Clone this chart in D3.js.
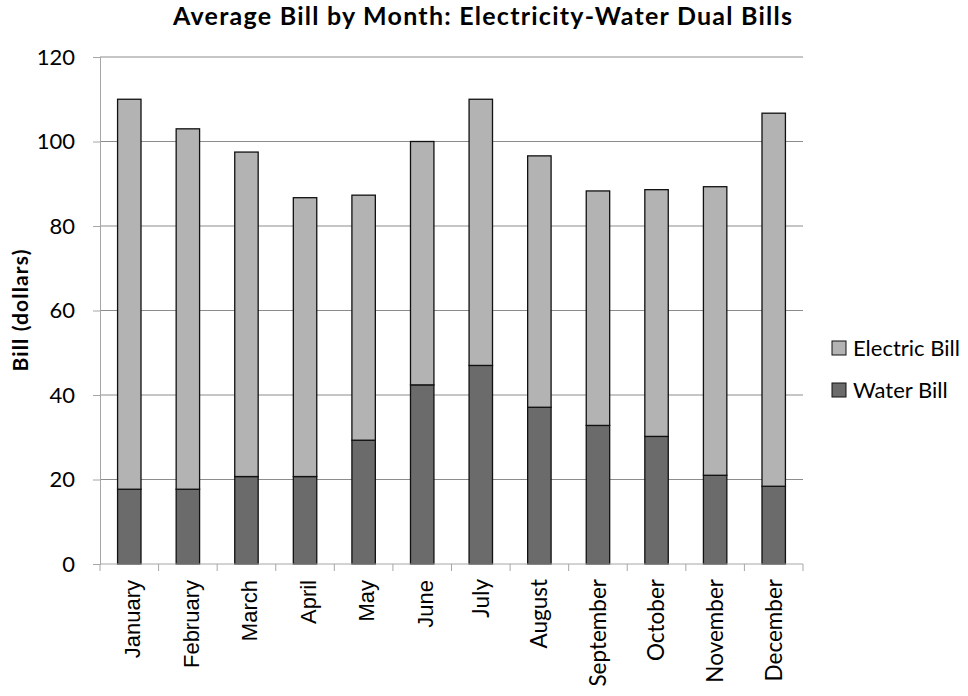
<!DOCTYPE html>
<html>
<head>
<meta charset="utf-8">
<script src="https://cdn.jsdelivr.net/npm/d3@7"></script>
<style>
  html, body { margin: 0; padding: 0; background: #fff; }
  svg { font-family: Lato, "Open Sans", sans-serif; }
  svg text { fill: #000; }
</style>
</head>
<body>
<svg id="chart" width="968" height="696"></svg>
<script>
// Monthly averages (dollars)
const months = ["January", "February", "March", "April", "May", "June",
                "July", "August", "September", "October", "November", "December"];
const waterBill = [17.7, 17.7, 20.7, 20.7, 29.3, 42.4, 47.0, 37.1, 32.8, 30.2, 21.0, 18.4];
const electricBill = [92.3, 85.3, 76.8, 66.0, 58.0, 57.6, 63.0, 59.5, 55.5, 58.4, 68.3, 88.3];
const yTicks = [0, 20, 40, 60, 80, 100, 120];
const seriesNames = ["Water Bill", "Electric Bill"];
const seriesColors = ["#6b6b6b", "#b3b3b3"];

const svg = d3.select("#chart");
const margin = { left: 100, right: 165, top: 57, bottom: 132 };
const W = 968, H = 696;

const x = d3.scaleBand().domain(months)
  .range([margin.left, W - margin.right])
  .paddingInner(0.6).paddingOuter(0.3);
const y = d3.scaleLinear().domain([0, 120]).range([H - margin.bottom, margin.top]);

const rows = months.map((m, i) => ({ month: m, "Water Bill": waterBill[i], "Electric Bill": electricBill[i] }));
const stacked = d3.stack().keys(seriesNames)(rows);

// horizontal gridlines
svg.append("g").selectAll("line").data(yTicks.filter(t => t > 0)).join("line")
  .attr("x1", margin.left).attr("x2", W - margin.right)
  .attr("y1", d => y(d)).attr("y2", d => y(d))
  .attr("stroke", "#8c8c8c").attr("stroke-width", 1);

// y axis
const yAxis = svg.append("g").attr("transform", `translate(${margin.left},0)`)
  .call(d3.axisLeft(y).tickValues(yTicks).tickSize(7).tickPadding(18));
yAxis.select(".domain").attr("stroke", "#a6a6a6");
yAxis.selectAll(".tick line").attr("stroke", "#a6a6a6");
yAxis.selectAll(".tick text").style("font-size", "22px").style("font-family", "Lato").attr("fill", "#000");

// bars
svg.append("g").selectAll("g").data(stacked).join("g")
  .attr("fill", (d, i) => seriesColors[i])
  .selectAll("rect").data(d => d).join("rect")
  .attr("x", d => x(d.data.month))
  .attr("width", x.bandwidth())
  .attr("y", d => y(d[1]))
  .attr("height", d => y(d[0]) - y(d[1]))
  .attr("stroke", "#111").attr("stroke-width", 1.3);

// x axis with ticks at band boundaries
const xg = svg.append("g").attr("transform", `translate(0,${y(0)})`);
xg.append("line").attr("x1", margin.left).attr("x2", W - margin.right)
  .attr("stroke", "#a6a6a6");
const bounds = d3.range(months.length + 1).map(i => margin.left + i * (W - margin.left - margin.right) / months.length);
xg.selectAll(".xt").data(bounds).join("line").attr("class", "xt")
  .attr("x1", d => d).attr("x2", d => d).attr("y1", 0).attr("y2", 7)
  .attr("stroke", "#a6a6a6");
// the January-June labels are set in a different sans-serif
const altFont = i => i < 6;
xg.selectAll(".xl").data(months).join("text").attr("class", "xl")
  .attr("transform", (d, i) => `translate(${x(d) + x.bandwidth() / 2 + (altFont(i) ? 3 : 0)},${altFont(i) ? 16 : 15}) rotate(-90)`)
  .attr("text-anchor", "end")
  .attr("dy", "0.35em")
  .style("font-family", (d, i) => altFont(i) ? "'Liberation Sans', Arial, sans-serif" : "Lato, sans-serif")
  .style("font-size", (d, i) => altFont(i) ? "22px" : "22.5px")
  .text(d => d);

// title
svg.append("text").attr("x", 482.5).attr("y", 25).attr("text-anchor", "middle")
  .style("font-size", "25px").style("font-weight", "bold")
  .attr("textLength", 619).attr("lengthAdjust", "spacing")
  .text("Average Bill by Month: Electricity-Water Dual Bills");

// y axis title
svg.append("text").attr("transform", `translate(28,${(y(0) + y(120)) / 2}) rotate(-90)`)
  .attr("text-anchor", "middle").style("font-size", "21px").style("font-weight", "bold")
  .attr("textLength", 122).attr("lengthAdjust", "spacing")
  .text("Bill (dollars)");

// legend
const legendItems = [{ name: "Electric Bill", color: seriesColors[1] }, { name: "Water Bill", color: seriesColors[0] }];
const lg = svg.append("g").selectAll("g").data(legendItems).join("g")
  .attr("transform", (d, i) => `translate(832,${341 + i * 42})`);
lg.append("rect").attr("width", 14).attr("height", 14).attr("fill", d => d.color)
  .attr("stroke", "#111").attr("stroke-width", 1);
lg.append("text").attr("x", 21).attr("y", 15).style("font-size", "22px").text(d => d.name);
</script>
</body>
</html>
